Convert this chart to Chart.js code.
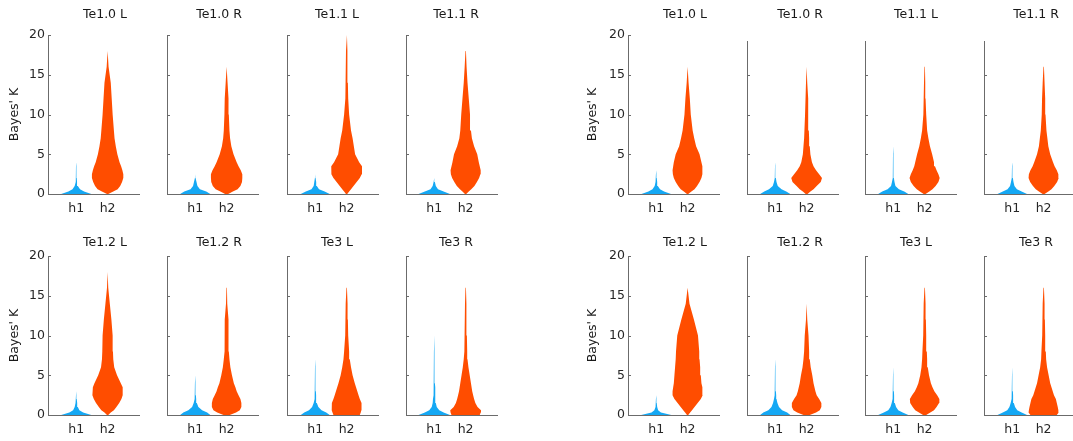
<!DOCTYPE html>
<html>
<head>
<meta charset="utf-8">
<script src="https://cdn.jsdelivr.net/npm/chart.js@4.4.1/dist/chart.umd.min.js"></script>
<style>
  html, body { margin: 0; padding: 0; background: #fff; }
  body { width: 1073px; height: 441px; position: relative; overflow: hidden; }
  .cell { position: absolute; }
</style>
</head>
<body>
<script>
const yLevels = [0, 0.3, 0.6, 1, 1.5, 2, 2.5, 3, 3.5, 4, 5, 6, 7, 8, 10, 12, 14, 16, 18, 20];
const categories = ['h1', 'h2'];
const yTicks = [0, 5, 10, 15, 20];
const panelTitles = ['Te1.0 L', 'Te1.0 R', 'Te1.1 L', 'Te1.1 R', 'Te1.2 L', 'Te1.2 R', 'Te3 L', 'Te3 R'];

// half-widths (x units) -- left group
const A_Te10L_h1 = [0.48,0.25,0.12,0.05,0.025,0.015,0.012,0.01,0.008,0.005,0,0,0,0,0,0,0,0,0,0];
const A_Te10L_h2 = [0.02,0.18,0.32,0.4,0.46,0.5,0.5,0.47,0.43,0.38,0.31,0.26,0.22,0.2,0.16,0.13,0.1,0.03,0,0];
const A_Te10R_h1 = [0.48,0.35,0.15,0.07,0.04,0.01,0,0,0,0,0,0,0,0,0,0,0,0,0,0];
const A_Te10R_h2 = [0.05,0.2,0.35,0.44,0.49,0.5,0.5,0.45,0.38,0.32,0.22,0.15,0.11,0.09,0.07,0.06,0.03,0,0,0];
const A_Te11L_h1 = [0.46,0.3,0.12,0.05,0.03,0.01,0,0,0,0,0,0,0,0,0,0,0,0,0,0];
const A_Te11L_h2 = [0.02,0.08,0.14,0.22,0.32,0.42,0.48,0.49,0.49,0.4,0.27,0.23,0.19,0.14,0.08,0.05,0.04,0.03,0.02,0.01];
const A_Te11R_h1 = [0.5,0.3,0.12,0.05,0.02,0,0,0,0,0,0,0,0,0,0,0,0,0,0,0];
const A_Te11R_h2 = [0.02,0.1,0.18,0.28,0.36,0.43,0.47,0.48,0.45,0.42,0.37,0.27,0.2,0.17,0.14,0.1,0.06,0.03,0.01,0];
const A_Te12L_h1 = [0.48,0.22,0.1,0.05,0.03,0.015,0.008,0,0,0,0,0,0,0,0,0,0,0,0,0];
const A_Te12L_h2 = [0.02,0.1,0.2,0.28,0.37,0.44,0.48,0.49,0.47,0.42,0.3,0.21,0.18,0.17,0.16,0.12,0.07,0.02,0,0];
const A_Te12R_h1 = [0.48,0.38,0.22,0.1,0.05,0.03,0.02,0.015,0.012,0.01,0.005,0,0,0,0,0,0,0,0,0];
const A_Te12R_h2 = [0.1,0.3,0.42,0.47,0.47,0.44,0.38,0.32,0.28,0.23,0.17,0.12,0.09,0.07,0.06,0.06,0.02,0.01,0,0];
const A_Te3L_h1 = [0.46,0.35,0.2,0.1,0.05,0.03,0.025,0.02,0.018,0.015,0.01,0.008,0.006,0.005,0,0,0,0,0,0];
const A_Te3L_h2 = [0.42,0.45,0.47,0.48,0.47,0.42,0.38,0.34,0.3,0.26,0.19,0.14,0.1,0.08,0.05,0.04,0.03,0.01,0,0];
const A_Te3R_h1 = [0.5,0.3,0.16,0.08,0.05,0.04,0.035,0.03,0.025,0.02,0.015,0.012,0.011,0.01,0.005,0,0,0,0,0];
const A_Te3R_h2 = [0.45,0.48,0.49,0.38,0.31,0.27,0.24,0.21,0.19,0.17,0.13,0.09,0.06,0.05,0.04,0.03,0.02,0.01,0,0];

// right group
const B_Te10L_h1 = [0.47,0.25,0.12,0.05,0.03,0.015,0.01,0,0,0,0,0,0,0,0,0,0,0,0,0];
const B_Te10L_h2 = [0.02,0.12,0.22,0.3,0.38,0.44,0.47,0.48,0.46,0.44,0.38,0.27,0.21,0.16,0.1,0.07,0.03,0,0,0];
const B_Te10R_h1 = [0.48,0.35,0.2,0.08,0.04,0.02,0.015,0.01,0.008,0.006,0.005,0.005,0.005,0.004,0.003,0,0,0,0,0];
const B_Te10R_h2 = [0.03,0.12,0.22,0.32,0.45,0.49,0.4,0.3,0.22,0.17,0.12,0.1,0.08,0.07,0.05,0.05,0.02,0,0,0];
const B_Te11L_h1 = [0.48,0.35,0.18,0.07,0.04,0.02,0.018,0.015,0.012,0.01,0.008,0.006,0.004,0,0,0,0,0,0,0];
const B_Te11L_h2 = [0.03,0.15,0.25,0.35,0.44,0.48,0.44,0.38,0.33,0.3,0.24,0.17,0.12,0.08,0.05,0.03,0.02,0.01,0,0];
const B_Te11R_h1 = [0.47,0.3,0.15,0.07,0.04,0.02,0.015,0.01,0.008,0.005,0,0,0,0,0,0,0,0,0,0];
const B_Te11R_h2 = [0.03,0.15,0.25,0.34,0.43,0.48,0.47,0.42,0.35,0.3,0.21,0.15,0.12,0.09,0.06,0.05,0.03,0.01,0,0];
const B_Te12L_h1 = [0.48,0.15,0.06,0.03,0.015,0.01,0,0,0,0,0,0,0,0,0,0,0,0,0,0];
const B_Te12L_h2 = [0.02,0.08,0.14,0.22,0.32,0.42,0.48,0.48,0.46,0.44,0.42,0.4,0.38,0.37,0.33,0.2,0.06,0,0,0];
const B_Te12R_h1 = [0.48,0.38,0.22,0.12,0.07,0.04,0.03,0.02,0.018,0.015,0.01,0.008,0.006,0.005,0,0,0,0,0,0];
const B_Te12R_h2 = [0.1,0.3,0.42,0.47,0.47,0.4,0.32,0.28,0.25,0.22,0.18,0.13,0.1,0.08,0.06,0.02,0,0,0,0];
const B_Te3L_h1 = [0.48,0.3,0.16,0.09,0.05,0.03,0.025,0.02,0.015,0.012,0.008,0.006,0.005,0.004,0,0,0,0,0,0];
const B_Te3L_h2 = [0.05,0.18,0.3,0.38,0.46,0.47,0.4,0.31,0.25,0.2,0.14,0.1,0.08,0.07,0.05,0.04,0.03,0.01,0,0];
const B_Te3R_h1 = [0.47,0.3,0.16,0.09,0.05,0.03,0.025,0.02,0.015,0.012,0.008,0.006,0.005,0.004,0.003,0,0,0,0,0];
const B_Te3R_h2 = [0.42,0.48,0.47,0.45,0.42,0.39,0.33,0.29,0.25,0.21,0.16,0.11,0.08,0.07,0.05,0.04,0.03,0.01,0,0];

const groupA = [
  [A_Te10L_h1, A_Te10L_h2], [A_Te10R_h1, A_Te10R_h2], [A_Te11L_h1, A_Te11L_h2], [A_Te11R_h1, A_Te11R_h2],
  [A_Te12L_h1, A_Te12L_h2], [A_Te12R_h1, A_Te12R_h2], [A_Te3L_h1, A_Te3L_h2], [A_Te3R_h1, A_Te3R_h2]
];
const groupB = [
  [B_Te10L_h1, B_Te10L_h2], [B_Te10R_h1, B_Te10R_h2], [B_Te11L_h1, B_Te11L_h2], [B_Te11R_h1, B_Te11R_h2],
  [B_Te12L_h1, B_Te12L_h2], [B_Te12R_h1, B_Te12R_h2], [B_Te3L_h1, B_Te3L_h2], [B_Te3R_h1, B_Te3R_h2]
];

// layout
const colLeft = [[48, 167, 287, 406], [628, 747, 865, 984]];
const titleX = [[105, 219, 337, 456], [685, 800, 916, 1036]];
const yTitleX = [15, 593];
const plotW = 91;
const rowTop = [35, 256];
const rowBottom = [194, 415];
const titleY = [15, 243];
const padL = 48, padR = 8, padB = 30;
const blue = '#14A8F4';
const orange = '#FF4D00';
const axisColor = '#6b6b6b';
const font = "'DejaVu Sans', sans-serif";
const fontSize = 12.5;

function violin(center, widths) {
  let last = widths.length - 1;
  while (last > 0 && widths[last] === 0) last--;
  const right = [], left = [];
  for (let i = 0; i <= last; i++) {
    right.push({x: center + widths[i], y: yLevels[i]});
    left.unshift({x: center - widths[i], y: yLevels[i]});
  }
  const tip = last < yLevels.length - 1 ? [{x: center, y: yLevels[last + 1]}] : [];
  return right.concat(tip, left);
}

function makePanel(g, idx) {
  const row = Math.floor(idx / 4), col = idx % 4;
  const yMax = (g === 1 && row === 0 && col > 0) ? 19.2 : 20;
  const bottom = rowBottom[row];
  const top = bottom - (rowBottom[row] - rowTop[row]) * yMax / 20;
  const canvasLeft = colLeft[g][col] - padL;
  const canvasTop = rowTop[row] - 35;
  const padT = top - canvasTop;
  const w = padL + plotW + padR;
  const h = padT + (bottom - top) + padB;

  const div = document.createElement('div');
  div.className = 'cell';
  div.style.left = canvasLeft + 'px';
  div.style.top = canvasTop + 'px';
  div.style.width = w + 'px';
  div.style.height = h + 'px';
  const cv = document.createElement('canvas');
  div.appendChild(cv);
  document.body.appendChild(div);

  const pair = (g === 0 ? groupA : groupB)[idx];
  const title = panelTitles[idx];
  const showY = col === 0;

  const panelText = {
    id: 'panelText',
    afterDraw(chart) {
      const ctx = chart.ctx;
      const ys = chart.scales.y;
      const area = chart.chartArea;
      ctx.save();
      ctx.strokeStyle = axisColor;
      ctx.lineWidth = 1;
      yTicks.filter(v => v <= yMax).forEach(v => {
        const py = Math.round(ys.getPixelForValue(v)) + 0.5;
        ctx.beginPath();
        ctx.moveTo(area.left, py);
        ctx.lineTo(area.left + 3, py);
        ctx.stroke();
      });
      ctx.fillStyle = '#1a1a1a';
      ctx.font = fontSize + 'px ' + font;
      ctx.textAlign = 'center';
      ctx.textBaseline = 'middle';
      ctx.fillText(title, titleX[g][col] - canvasLeft, titleY[row] - canvasTop);
      if (showY) {
        ctx.translate(yTitleX[g] - canvasLeft, (rowTop[row] + rowBottom[row]) / 2 - canvasTop);
        ctx.rotate(-Math.PI / 2);
        ctx.fillText("Bayes' K", 0, 0);
      }
      ctx.restore();
    }
  };

  const ds = (center, widths, color) => ({
    data: violin(center, widths),
    backgroundColor: color,
    borderWidth: 0,
    pointRadius: 0,
    fill: 'shape',
    tension: 0
  });

  new Chart(cv, {
    type: 'line',
    data: {datasets: [ds(1, pair[0], blue), ds(2, pair[1], orange)]},
    options: {
      responsive: true,
      maintainAspectRatio: false,
      animation: false,
      events: [],
      layout: {padding: {left: 0, right: padR, top: padT, bottom: 0}},
      plugins: {legend: {display: false}, tooltip: {enabled: false}, title: {display: false}},
      scales: {
        x: {
          type: 'linear', min: 0.1, max: 3,
          afterBuildTicks: s => { s.ticks = [{value: 1}, {value: 2}]; },
          afterFit: s => { s.height = padB; },
          ticks: {callback: v => categories[v - 1], color: '#262626', font: {family: font, size: fontSize}, padding: 7, maxRotation: 0},
          grid: {display: true, drawOnChartArea: false, drawTicks: false},
          border: {display: true, color: axisColor, width: 1}
        },
        y: {
          min: 0, max: yMax,
          afterBuildTicks: s => { s.ticks = yTicks.filter(v => v <= yMax).map(v => ({value: v})); },
          afterFit: s => { s.width = padL; },
          ticks: {display: showY, color: '#262626', font: {family: font, size: fontSize}, padding: 3},
          grid: {display: true, drawOnChartArea: false, drawTicks: false},
          border: {display: true, color: axisColor, width: 1}
        }
      }
    },
    plugins: [panelText]
  });
}

for (let g = 0; g < 2; g++) {
  for (let i = 0; i < 8; i++) makePanel(g, i);
}
</script>
</body>
</html>
